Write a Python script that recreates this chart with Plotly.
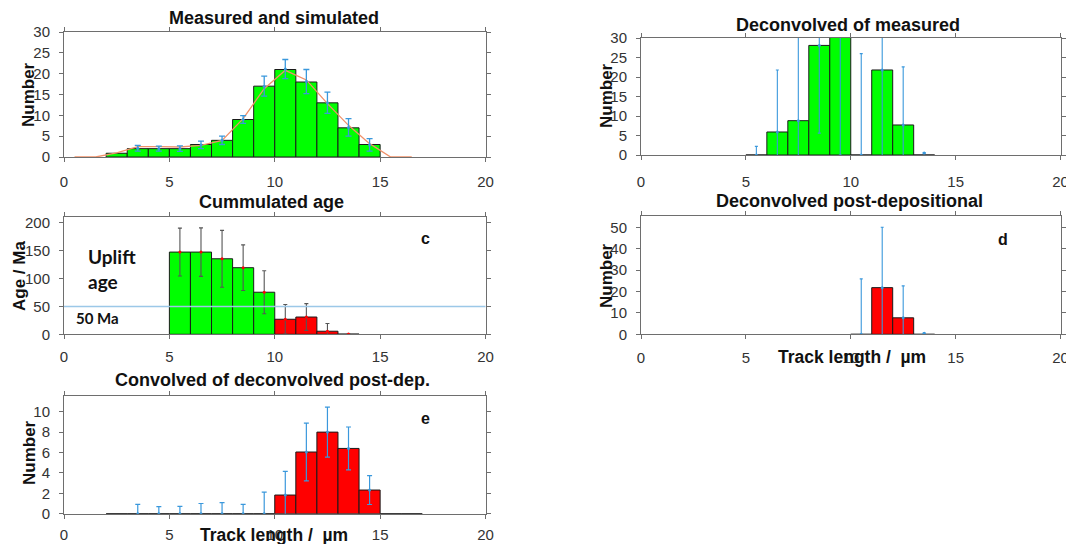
import plotly.graph_objects as go

# page body has an 8px margin: the figure is drawn from (8, 8) in the window
OFF = 8
W, H = 1074 - OFF, 544 - OFF

# ---------------- data ----------------
# panel a: measured and simulated
a_x = [2.5, 3.5, 4.5, 5.5, 6.5, 7.5, 8.5, 9.5, 10.5, 11.5, 12.5, 13.5, 14.5]
a_y = [0.9, 2, 2, 2, 3, 4, 9, 17, 21, 18, 13, 7, 3]
a_err_x = [3.5, 4.5, 5.5, 6.5, 7.5, 8.5, 9.5, 10.5, 11.5, 12.5, 13.5, 14.5]
a_err_c = [2.1, 2.0, 2.0, 2.9, 4.0, 9.0, 17.0, 21.1, 18.1, 13.0, 7.1, 2.9]
a_err = [0.7, 0.6, 0.65, 0.9, 1.0, 0.95, 2.4, 2.3, 2.9, 2.55, 2.1, 1.5]
a_sim_x = [0.5, 1.5, 2.5, 3.5, 4.5, 5.5, 6.5, 7.5, 8.5, 9.5, 10.5, 11.5, 12.5, 13.5, 14.5, 15.5, 16.5]
a_sim_y = [0, 0, 1.0, 2.5, 2.5, 2.4, 2.8, 4.0, 9.2, 16.4, 20.8, 18.5, 12.8, 7.6, 3.2, 0, 0]

# panel b: deconvolved of measured
b_x = [5.5, 6.5, 7.5, 8.5, 9.5, 10.5, 11.5, 12.5, 13.5]
b_y = [0, 5.9, 8.8, 28.1, 33, 0, 21.8, 7.7, 0]
b_err_c = [0, 5.9, 8.8, 28.1, 33, 0, 21.8, 7.7, 0.5]
b_err = [2.2, 15.9, 22, 22.5, 33, 26, 22, 14.9, 0.1]

# panel c: cummulated age
c_x = [5.5, 6.5, 7.5, 8.5, 9.5, 10.5, 11.5, 12.5, 13.5]
c_y = [147.5, 147.5, 135.5, 119.5, 75.5, 27, 31, 5.5, 0.5]
c_err = [43, 43.5, 51, 41, 38.5, 26.5, 24, 14, 0]
c_uplift_age = 50
c_split = 10

# panel d: deconvolved post-depositional
d_x = [10.5, 11.5, 12.5, 13.5]
d_y = [0, 21.8, 7.7, 0]
d_err_c = [0, 21.8, 7.7, 0.5]
d_err = [25.9, 28.2, 14.9, 0.1]

# panel e: convolved of deconvolved post-dep.
e_x = [2.5, 3.5, 4.5, 5.5, 6.5, 7.5, 8.5, 9.5, 10.5, 11.5, 12.5, 13.5, 14.5, 15.5, 16.5]
e_y = [0, 0, 0, 0, 0, 0, 0, 0, 1.83, 6.05, 8.0, 6.4, 2.32, 0, 0]
e_err_x = [3.5, 4.5, 5.5, 6.5, 7.5, 8.5, 9.5, 10.5, 11.5, 12.5, 13.5, 14.5]
e_err_c = [0, 0, 0, 0, 0, 0, 0, 1.83, 6.05, 8.0, 6.4, 2.32]
e_err = [0.92, 0.69, 0.72, 1.0, 1.08, 0.92, 2.12, 2.32, 2.83, 2.45, 2.1, 1.42]

x_ticks = [0, 5, 10, 15, 20]

# ---------------- style ----------------
GREEN = "#00ff00"
RED = "#ff0000"
BLUE = "#3a98dc"
EDGE = "#1a1a1a"
AXC = "#6e6e6e"
FONT = "Liberation Sans, Arial, sans-serif"


def xd(a, b):
    return [(a - OFF) / W, (b - OFF) / W]


def yd(top, bottom):
    return [1 - (bottom - OFF) / H, 1 - (top - OFF) / H]


fig = go.Figure()


def bars(x, y, colors, xa, ya):
    fig.add_trace(go.Bar(x=x, y=y, width=1, xaxis=xa, yaxis=ya,
                         marker=dict(color=colors, line=dict(color=EDGE, width=1)),
                         showlegend=False, hoverinfo="x+y"))


def errs(x, c, e, xa, ya, color=BLUE, dot=BLUE, cap=3, thick=1.3):
    fig.add_trace(go.Scatter(x=x, y=c, mode="markers", xaxis=xa, yaxis=ya,
                             marker=dict(color=dot, size=3),
                             error_y=dict(type="data", array=e, visible=True,
                                          color=color, thickness=thick, width=cap),
                             showlegend=False, cliponaxis=True))


# a
bars(a_x, a_y, GREEN, "x", "y")
fig.add_trace(go.Scatter(x=a_sim_x, y=a_sim_y, mode="lines", xaxis="x", yaxis="y",
                         line=dict(color="#f0916a", width=1.3), showlegend=False))
errs(a_err_x, a_err_c, a_err, "x", "y", cap=3)

# b
bars(b_x, b_y, GREEN, "x2", "y2")
errs(b_x, b_err_c, b_err, "x2", "y2", cap=1.5, thick=1.1)

# c
c_colors = [GREEN if v < c_split else RED for v in c_x]
bars(c_x, c_y, c_colors, "x3", "y3")
errs(c_x, c_y, c_err, "x3", "y3", color="#555555", dot=RED, cap=2, thick=1.1)

# d
bars(d_x, d_y, RED, "x4", "y4")
errs(d_x, d_err_c, d_err, "x4", "y4", cap=1.5, thick=1.1)

# e
bars(e_x, e_y, RED, "x5", "y5")
errs(e_err_x, e_err_c, e_err, "x5", "y5", cap=2.5, thick=1.2)

# ---------------- axes ----------------
panels = [
    # suffix, x px, y px (top, bottom), y range, y ticks, x tick-label standoff
    ("", (64, 485.5), (32, 157), [0, 30], [0, 5, 10, 15, 20, 25, 30], 7),
    ("2", (641, 1060.5), (38, 155), [0, 30], [0, 5, 10, 15, 20, 25, 30], 9),
    ("3", (64, 485.5), (216.7, 334.3), [0, 211], [0, 50, 100, 150, 200], 5),
    ("4", (641, 1060.5), (215.7, 334.3), [0, 55.4], [0, 10, 20, 30, 40, 50], 6),
    ("5", (64, 485.5), (395.7, 513.7), [0, 11.57], [0, 2, 4, 6, 8, 10], 3),
]

axis_common = dict(showline=True, linecolor=AXC, linewidth=1, mirror="ticks",
                   ticks="outside", ticklen=4, tickcolor=AXC, tickwidth=1,
                   showgrid=False, zeroline=False, automargin=False,
                   tickfont=dict(family=FONT, size=15, color="#333333"))

layout_axes = {}
for name, (xa, xb), (yt, yb), yr, yt_vals, xso in panels:
    layout_axes["xaxis" + name] = dict(domain=xd(xa, xb), range=[0, 20],
                                       tickvals=x_ticks, anchor="y" + name,
                                       ticklabelstandoff=xso, **axis_common)
    layout_axes["yaxis" + name] = dict(domain=yd(yt, yb), range=yr,
                                       tickvals=yt_vals, anchor="x" + name,
                                       ticklabelstandoff=6, **axis_common)

fig.update_layout(**layout_axes)

# ---------------- annotations ----------------
ann = []


def text(t, x, y, size=16, bold=True, angle=0, family=FONT, xanchor="center", align="center"):
    ann.append(dict(text=("<b>%s</b>" % t) if bold else t,
                    x=(x - OFF) / W, y=1 - (y - OFF) / H,
                    xref="paper", yref="paper", showarrow=False, textangle=angle,
                    xanchor=xanchor, yanchor="middle", align=align,
                    font=dict(family=family, size=size, color="#111111")))


TS = 18    # panel titles
AS = 17    # axis titles
text("Measured and simulated", 274, 18, size=TS)
text("Deconvolved of measured", 848, 25, size=TS)
text("Cummulated age", 271, 202, size=TS)
text("Deconvolved post-depositional", 849, 201, size=TS)
text("Convolved of deconvolved post-dep.", 272, 380, size=TS)

text("Number", 28, 95, size=AS, angle=-90)
text("Number", 606, 96, size=AS, angle=-90)
text("Age / Ma", 19, 276, size=AS, angle=-90)
text("Number", 606, 276, size=AS, angle=-90)
text("Number", 29, 453, size=AS, angle=-90)

text("Track length /  µm", 852, 357, size=17.5)
text("Track length /  µm", 274, 535, size=17.5)

text("c", 425, 238)
text("d", 1003, 239)
text("e", 425, 418)

text("Uplift<br>age", 86, 269, size=19, family="Lato, sans-serif", xanchor="left", align="left")
text("50 Ma", 74, 318, size=15, family="Lato, sans-serif", xanchor="left")

fig.update_layout(
    template="none",
    annotations=ann,
    shapes=[dict(type="line", xref="x3 domain", yref="y3", x0=0, x1=1,
                 y0=c_uplift_age, y1=c_uplift_age,
                 line=dict(color="#9cc8e8", width=1.5), layer="above")],
    width=W, height=H, margin=dict(l=0, r=0, t=0, b=0, autoexpand=False),
    paper_bgcolor="white", plot_bgcolor="white", barmode="overlay",
    showlegend=False,
)

fig.write_html("out.html")
